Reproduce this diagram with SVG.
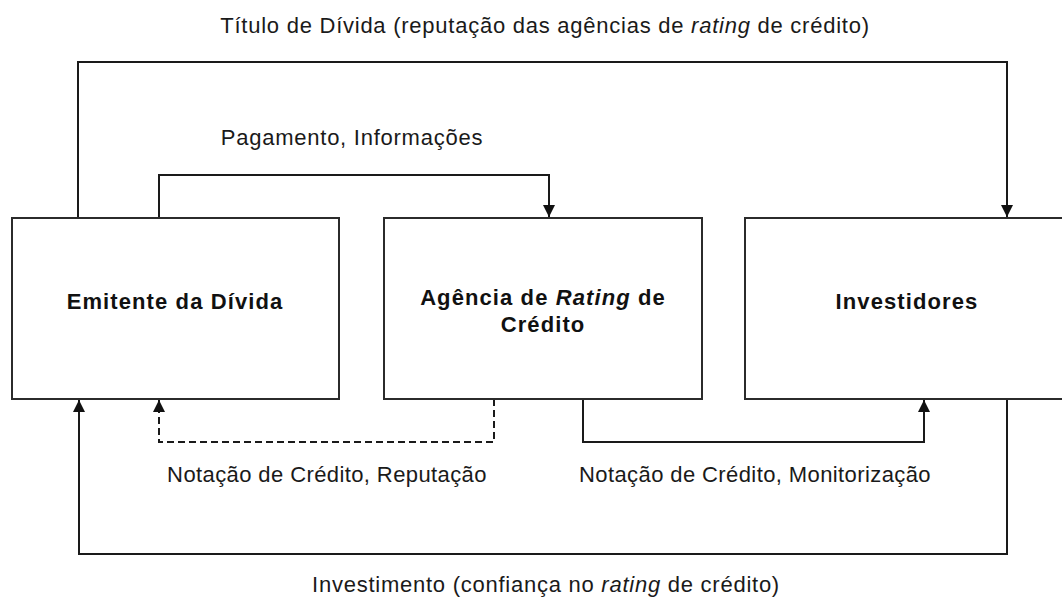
<svg xmlns="http://www.w3.org/2000/svg" width="1062" height="598" viewBox="0 0 1062 598">
<style>
.box{fill:#fff;stroke:#2b2b2b;stroke-width:2}
.lbl{font-family:"Liberation Sans",Arial,sans-serif;font-size:22px;letter-spacing:0.75px;fill:#1a1a1a;text-anchor:middle}
.tight{letter-spacing:0.4px}
.node{font-family:"Liberation Sans",Arial,sans-serif;font-size:22px;font-weight:bold;letter-spacing:1.1px;fill:#111;text-anchor:middle}
.con{fill:none;stroke:#1a1a1a;stroke-width:2;marker-end:url(#arr)}
.dash{stroke-dasharray:7 4}
</style>
<defs>
<marker id="arr" markerUnits="userSpaceOnUse" markerWidth="13" markerHeight="12" refX="12" refY="6" orient="auto">
<path d="M0,0 L12,6 L0,12 z" fill="#111"/>
</marker>
</defs>
<rect width="1062" height="598" fill="#fff"/>
<g id="connectors">
<path class="con" d="M78,218 V62 H1007 V217"/>
<path class="con" d="M159,218 V175 H549 V217"/>
<path class="con dash" d="M494,399 V442 H159 V400"/>
<path class="con" d="M583,399 V442 H924 V400"/>
<path class="con" d="M1007,399 V554 H79 V400"/>
</g>
<g id="labels">
<text class="lbl" x="545" y="33">Título de Dívida (reputação das agências de <tspan font-style="italic">rating</tspan> de crédito)</text>
<text class="lbl" x="352" y="145">Pagamento, Informações</text>
<text class="lbl tight" x="327" y="482">Notação de Crédito, Reputação</text>
<text class="lbl tight" x="755" y="482">Notação de Crédito, Monitorização</text>
<text class="lbl" x="546" y="592">Investimento (confiança no <tspan font-style="italic">rating</tspan> de crédito)</text>
</g>
<g id="emitente">
<rect class="box" x="12" y="218" width="327" height="181"/>
<text class="node" x="175" y="309">Emitente da Dívida</text>
</g>
<g id="agencia">
<rect class="box" x="384" y="218" width="318" height="181"/>
<text class="node" x="543" y="305">Agência de <tspan font-style="italic">Rating</tspan> de</text>
<text class="node" x="543" y="332">Crédito</text>
</g>
<g id="investidores">
<rect class="box" x="745" y="218" width="325" height="181"/>
<text class="node" x="907" y="309">Investidores</text>
</g>
</svg>
